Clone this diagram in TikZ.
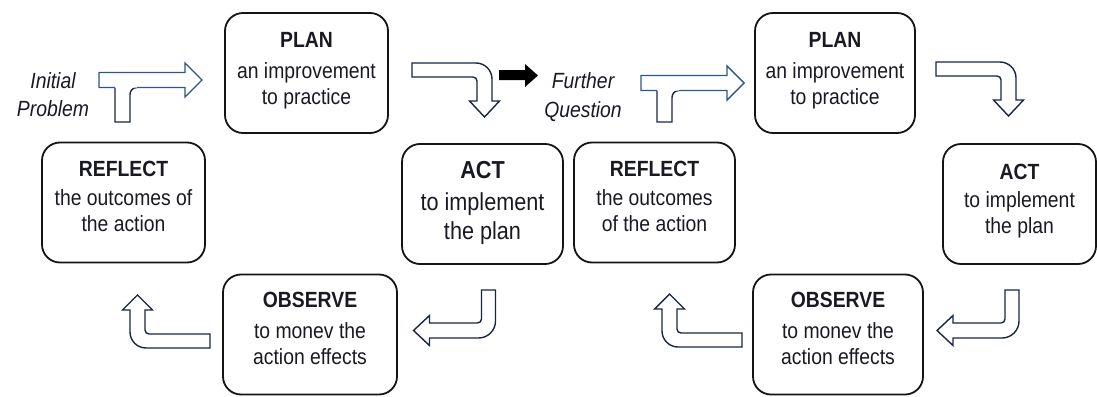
\documentclass[tikz,border=0pt]{standalone}
\usepackage{fontspec}
\setmainfont{Liberation Sans}[FakeStretch=0.88]
\usetikzlibrary{positioning}
\definecolor{boxblack}{RGB}{20,20,20}
\definecolor{txtdark}{RGB}{25,25,35}
\definecolor{arrownavy}{RGB}{25,38,66}
\definecolor{arrowblue}{RGB}{42,88,140}

\tikzset{
  stage/.style={draw=boxblack, line width=1.8pt, rounded corners=18pt,
    minimum width=#1, minimum height=120pt, inner sep=0pt},
  stagetext/.style={anchor=north, align=center, inner sep=0pt, text=txtdark,
    font=\fontsize{22}{26}\selectfont},
  blockarrow/.style={draw=arrownavy, fill=white, line width=1.4pt},
}

% right, then down
\newcommand{\bentdown}[2]{%
  \filldraw[blockarrow, shift={(#1,#2)}] (0,0) -- (64,0)
    .. controls (72.8,0) and (80,7.2) .. (80,16) -- (80,38) -- (87.5,38)
    -- (72.5,54) -- (57.5,38) -- (65,38) -- (65,18)
    .. controls (65,15.8) and (63.2,14) .. (61,14) -- (0,14) -- cycle;}
% down, then left
\newcommand{\turnleft}[2]{%
  \filldraw[blockarrow, shift={(#1,#2)}] (0,0) -- (14,0) -- (14,31)
    .. controls (14,40.4) and (6.4,48) .. (-3,48) -- (-52,48) -- (-52,55.5)
    -- (-68,40.5) -- (-52,25.5) -- (-52,33) -- (-4,33)
    .. controls (-1.8,33) and (0,31.2) .. (0,29) -- cycle;}
% left, then up
\newcommand{\turnup}[2]{%
  \filldraw[blockarrow, shift={(#1,#2)}] (80,24) -- (80,38) -- (16,38)
    .. controls (7.2,38) and (0,30.8) .. (0,22) -- (0,0) -- (-7.5,0)
    -- (7.5,-15) -- (22.5,0) -- (15,0) -- (15,20)
    .. controls (15,22.2) and (16.8,24) .. (19,24) -- cycle;}
% stem and bar into PLAN
\newcommand{\startarrow}[3]{%
  \begin{scope}[shift={(#1,#2)}]
  \fill[white] (16,15) -- (16,#3) -- (31,#3) -- (31,15) -- cycle;
  \draw[arrownavy, line width=1.4pt] (16,15) -- (16,#3) -- (31,#3) -- (31,22)
    .. controls (31,18.1) and (34.1,15) .. (38,15);
  \fill[white] (0,0) -- (86,0) -- (86,-9.5) -- (103,7.5) -- (86,24.5) -- (86,15) -- (0,15) -- cycle;
  \draw[arrowblue, line width=1.4pt] (38,15) -- (86,15) -- (86,24.5) -- (103,7.5)
    -- (86,-9.5) -- (86,0) -- (0,0) -- (0,15) -- (16,15);
  \end{scope}}

\begin{document}
\begin{tikzpicture}[x=1pt, y=-1pt]
\useasboundingbox (0,0) rectangle (1097,396);
% first cycle
\node[stage=163pt] (plan1) at (306.5,73) {};
\node[stagetext] (plan1txt) at ([yshift=-20pt]plan1.north) {\textbf{PLAN}\\[5pt]an improvement\\to practice};
\node[stage=161pt] (act1) at (482.5,204) {};
\node[stagetext, font=\fontsize{24.6}{29}\selectfont] (act1txt) at ([yshift=-18pt]act1.north) {\textbf{ACT}\\[3pt]to implement\\the plan};
\node[stage=174pt] (obs1) at (310,334.5) {};
\node[stagetext] (obs1txt) at ([yshift=-18pt]obs1.north) {\textbf{OBSERVE}\\[5pt]to monev the\\action effects};
\node[stage=163pt] (ref1) at (123.5,202.5) {};
\node[stagetext] (ref1txt) at ([yshift=-19pt]ref1.north) {\textbf{REFLECT}\\[3pt]the outcomes of\\the action};
% second cycle
\node[stage=160pt] (plan2) at (835,73) {};
\node[stagetext] (plan2txt) at ([yshift=-20pt]plan2.north) {\textbf{PLAN}\\[5pt]an improvement\\to practice};
\node[stage=153pt] (act2) at (1019.5,204) {};
\node[stagetext] (act2txt) at ([yshift=-21pt]act2.north) {\textbf{ACT}\\[2pt]to implement\\the plan};
\node[stage=170pt] (obs2) at (838,334.5) {};
\node[stagetext] (obs2txt) at ([yshift=-18pt]obs2.north) {\textbf{OBSERVE}\\[5pt]to monev the\\action effects};
\node[stage=161pt] (ref2) at (654.5,202.5) {};
\node[stagetext] (ref2txt) at ([yshift=-19pt]ref2.north) {\textbf{REFLECT}\\[3pt]the outcomes\\of the action};
% start labels
\node[stagetext, font=\fontsize{22}{28}\selectfont\itshape] (initial) at (53,72) {Initial\\Problem};
\node[stagetext, font=\fontsize{22}{29}\selectfont\itshape] (further) at (583,72) {Further\\Question};
% arrows
\startarrow{99}{72.5}{49.5}
\startarrow{641}{75.5}{46.5}
\foreach \ox/\oy in {412/63, 936/62} {\bentdown{\ox}{\oy}}
\foreach \ox/\oy in {481.5/290, 1005/290} {\turnleft{\ox}{\oy}}
\foreach \ox/\oy in {130/310, 662/309} {\turnup{\ox}{\oy}}
\fill[black] (499,70) -- (525,70) -- (525,64) -- (538,75.5) -- (525,87) -- (525,80) -- (499,80) -- cycle;
\end{tikzpicture}
\end{document}
